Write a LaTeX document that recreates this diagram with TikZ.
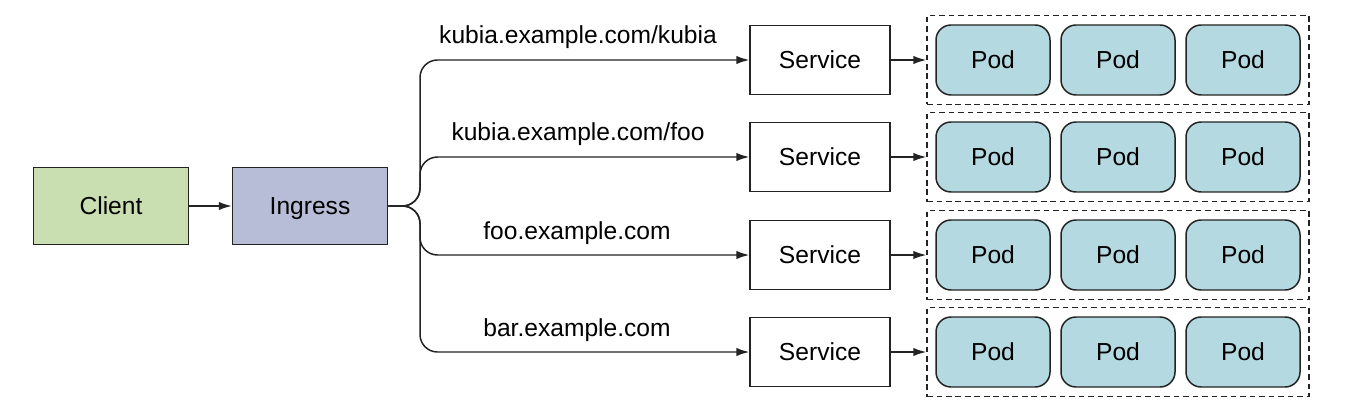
\documentclass[tikz,border=0pt]{standalone}
\usepackage{fontspec}
\setmainfont{Liberation Sans}
\usetikzlibrary{arrows.meta}

\definecolor{clientgreen}{RGB}{202,223,177}
\definecolor{ingressblue}{RGB}{183,189,214}
\definecolor{podblue}{RGB}{181,217,224}
\definecolor{inkgray}{RGB}{35,35,35}

\tikzset{
    box/.style={draw=inkgray, line width=0.85pt, minimum width=2.8cm, minimum height=1.38cm, text height=12pt, text depth=2pt, font=\fontsize{14}{17}\selectfont},
    pod/.style={box, fill=podblue, rounded corners=0.3cm, minimum width=2.28cm, minimum height=1.4cm},
    podgroup/.style={draw=inkgray, line width=0.85pt, dash pattern=on 3.2pt off 2.2pt, minimum width=7.64cm, minimum height=1.78cm},
    link/.style={draw=inkgray, line width=0.85pt, -{Latex[length=2.6mm,width=1.7mm]}},
    url/.style={font=\fontsize{14}{17}\selectfont, inner sep=0pt, anchor=base}
}

\begin{document}
\begin{tikzpicture}
    \useasboundingbox (0, 0) rectangle (27.28, 8.28);

        %%client and ingress
        \node[box, fill=clientgreen, minimum width=3.1cm, minimum height=1.54cm] (client) at (2.22, 4.16){Client};
        \node[box, fill=ingressblue, minimum width=3.1cm, minimum height=1.54cm] (ingress) at (6.2, 4.16){Ingress};
            \draw[link](client) to (ingress);
        \coordinate (fork) at (8.4, 4.16);

        %%row1
        \node[box] (svc1) at (16.4, 7.08){Service};
            \node[url] (url1) at (11.56, 7.4){kubia.example.com/kubia};
            \draw[link, rounded corners=0.35cm](ingress.east) -- (fork) |- (svc1.west);
        \node[podgroup] (grp1) at (22.36, 7.08){};
            \node[pod] (pod11) at (19.86, 7.08){Pod};
            \node[pod] (pod12) at (22.36, 7.08){Pod};
            \node[pod] (pod13) at (24.86, 7.08){Pod};
            \draw[link](svc1) to (grp1);

        %%row2
        \node[box] (svc2) at (16.4, 5.14){Service};
            \node[url] (url2) at (11.56, 5.46){kubia.example.com/foo};
            \draw[link, rounded corners=0.35cm](ingress.east) -- (fork) |- (svc2.west);
        \node[podgroup] (grp2) at (22.36, 5.14){};
            \node[pod] (pod21) at (19.86, 5.14){Pod};
            \node[pod] (pod22) at (22.36, 5.14){Pod};
            \node[pod] (pod23) at (24.86, 5.14){Pod};
            \draw[link](svc2) to (grp2);

        %%row3
        \node[box] (svc3) at (16.4, 3.18){Service};
            \node[url] (url3) at (11.54, 3.5){foo.example.com};
            \draw[link, rounded corners=0.35cm](ingress.east) -- (fork) |- (svc3.west);
        \node[podgroup] (grp3) at (22.36, 3.18){};
            \node[pod] (pod31) at (19.86, 3.18){Pod};
            \node[pod] (pod32) at (22.36, 3.18){Pod};
            \node[pod] (pod33) at (24.86, 3.18){Pod};
            \draw[link](svc3) to (grp3);

        %%row4
        \node[box] (svc4) at (16.4, 1.24){Service};
            \node[url] (url4) at (11.54, 1.56){bar.example.com};
            \draw[link, rounded corners=0.35cm](ingress.east) -- (fork) |- (svc4.west);
        \node[podgroup] (grp4) at (22.36, 1.24){};
            \node[pod] (pod41) at (19.86, 1.24){Pod};
            \node[pod] (pod42) at (22.36, 1.24){Pod};
            \node[pod] (pod43) at (24.86, 1.24){Pod};
            \draw[link](svc4) to (grp4);
\end{tikzpicture}
\end{document}
